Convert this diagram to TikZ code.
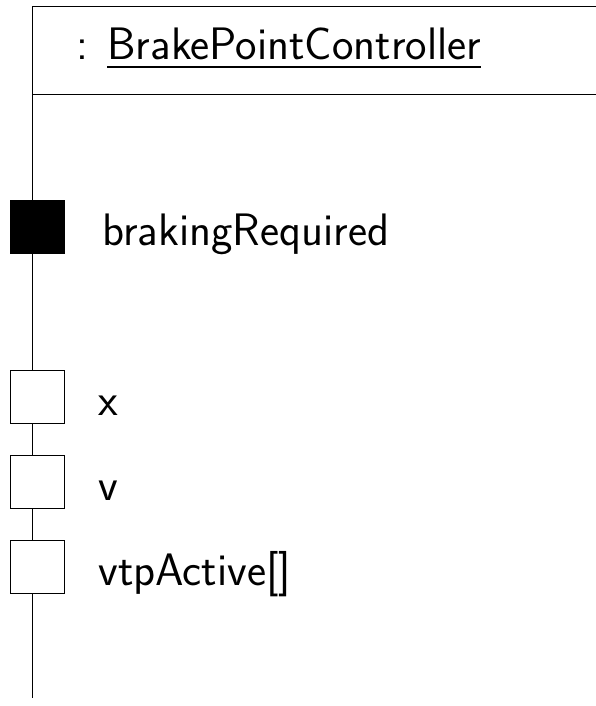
\documentclass[tikz,border=0pt]{standalone}
\begin{document}
\begin{tikzpicture}[x=1pt,y=-1pt,
  line width=1pt,
  label/.style={inner sep=0pt,anchor=base west,font=\sffamily\fontsize{45.5}{55}\selectfont},
  portbox/.style={draw,fill=white,minimum width=54pt,minimum height=53pt,inner sep=0pt},
  portfilled/.style={portbox,fill=black}]
\useasboundingbox (0,0) rectangle (596,706);

% object header and lifeline
\coordinate (topleft) at (32,7);
\coordinate (topright) at (600,7);
\coordinate (sepleft) at (32,95);
\coordinate (sepright) at (600,95);
\coordinate (bottom) at (32,698);
\draw (topright) -- (topleft) -- (bottom);
\draw (sepleft) -- (sepright);

\node[label] (colon) at (76,60) {:};
\node[label] (title) at (107,60) {BrakePointController};
\draw[line width=2pt] ([yshift=-7pt]title.base west) -- ([yshift=-7pt]title.base east);

% ports
\node[portfilled] (p1) at (37,227) {};
\node[portbox] (p2) at (37,396.5) {};
\node[portbox] (p3) at (37,481.5) {};
\node[portbox] (p4) at (37,566.5) {};

\node[label] (t1) at (102,245) {brakingRequired};
\node[label] (t2) at (98,415) {x};
\node[label] (t3) at (98,500) {v};
\node[label] (t4) at (98,585) {vtpActive[]};
\end{tikzpicture}
\end{document}
